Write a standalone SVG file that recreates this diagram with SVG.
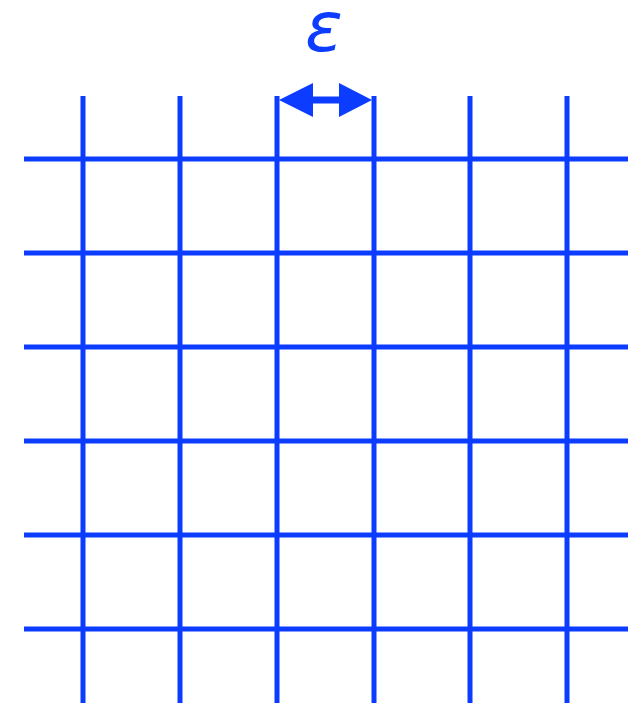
<svg xmlns="http://www.w3.org/2000/svg" width="643" height="703" viewBox="0 0 643 703">
<style>
.g{stroke:#0b3cff;stroke-width:5;fill:none}
.t{fill:#0b3cff;font-family:"DejaVu Sans",sans-serif;font-style:italic;font-size:70px}
</style>
<rect width="643" height="703" fill="#fff"/>
<g id="grid">
<line class="g" x1="83" y1="96" x2="83" y2="703"/>
<line class="g" x1="180" y1="96" x2="180" y2="703"/>
<line class="g" x1="277" y1="96" x2="277" y2="703"/>
<line class="g" x1="374" y1="96" x2="374" y2="703"/>
<line class="g" x1="470" y1="96" x2="470" y2="703"/>
<line class="g" x1="567" y1="96" x2="567" y2="703"/>
<line class="g" x1="24" y1="159" x2="628" y2="159"/>
<line class="g" x1="24" y1="253" x2="628" y2="253"/>
<line class="g" x1="24" y1="347" x2="628" y2="347"/>
<line class="g" x1="24" y1="441" x2="628" y2="441"/>
<line class="g" x1="24" y1="535" x2="628" y2="535"/>
<line class="g" x1="24" y1="629" x2="628" y2="629"/>
</g>
<g id="connectors">
<line x1="300" y1="100" x2="350" y2="100" stroke="#0b3cff" stroke-width="7"/>
<polygon points="279,100 313,83 313,117" fill="#0b3cff"/>
<polygon points="372,100 339,83 339,117" fill="#0b3cff"/>
</g>
<g id="label">
<text class="t" x="324" y="51" text-anchor="middle">ε</text>
</g>
</svg>
